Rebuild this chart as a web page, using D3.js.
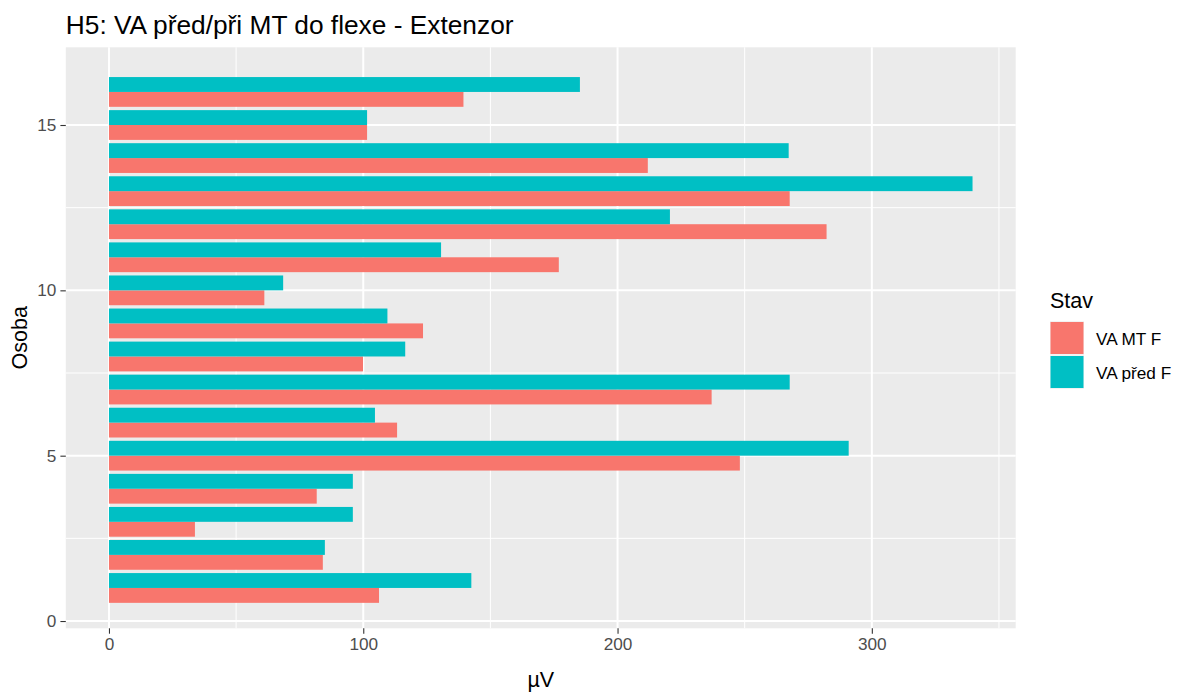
<!DOCTYPE html>
<html>
<head>
<meta charset="utf-8">
<script src="https://cdn.jsdelivr.net/npm/d3@7"></script>
<style>
  body { margin: 0; background: #fff; }
  text { font-family: "Liberation Sans", Arial, sans-serif; }
</style>
</head>
<body>
<script>
// data
var persons = [1, 2, 3, 4, 5, 6, 7, 8, 9, 10, 11, 12, 13, 14, 15, 16];
var vaMT   = [106.2, 84.1, 33.8, 81.7, 248.1, 113.3, 237.0, 99.9, 123.5, 61.1, 176.9, 282.2, 267.7, 211.9, 101.5, 139.4];
var vaPred = [142.5, 84.9, 95.9, 95.9, 290.9, 104.6, 267.7, 116.5, 109.5, 68.5, 130.6, 220.6, 339.6, 267.3, 101.5, 185.2];
var seriesNames = ["VA MT F", "VA před F"];
var seriesColors = ["#F8766D", "#00BFC4"];
var xTicks = [0, 100, 200, 300];
var xMinor = [50, 150, 250, 350];
var yTicks = [0, 5, 10, 15];
var yMinor = [2.5, 7.5, 12.5];

var w = 1191, h = 697;
var panel = {left: 65.8, right: 1015.7, top: 47.3, bottom: 628.3};

var svg = d3.select("body").append("svg")
  .attr("width", w)
  .attr("height", h);

// scales, ggplot style 5% expansion
var xMax = d3.max(vaMT.concat(vaPred));
var xPad = xMax * 0.05;
var x = d3.scaleLinear()
  .domain([-xPad, xMax + xPad])
  .range([panel.left, panel.right]);

var yLo = d3.min(persons) - 0.45, yHi = d3.max(persons) + 0.45;
var yPad = (yHi - yLo) * 0.05;
var y = d3.scaleLinear()
  .domain([yLo - yPad + 0.025, yHi + yPad + 0.105])
  .range([panel.bottom, panel.top]);

//Panel background
svg.append("rect")
  .attr("x", panel.left).attr("y", panel.top)
  .attr("width", panel.right - panel.left)
  .attr("height", panel.bottom - panel.top)
  .attr("fill", "#EBEBEB");

var grid = svg.append("g");
// minor grid
grid.selectAll(".xminor").data(xMinor).enter().append("line")
  .attr("x1", d => x(d)).attr("x2", d => x(d))
  .attr("y1", panel.top).attr("y2", panel.bottom)
  .attr("stroke", "#fff").attr("stroke-width", 1);
grid.selectAll(".yminor").data(yMinor).enter().append("line")
  .attr("y1", d => y(d)).attr("y2", d => y(d))
  .attr("x1", panel.left).attr("x2", panel.right)
  .attr("stroke", "#fff").attr("stroke-width", 1);
// major grid
grid.selectAll(".xmajor").data(xTicks).enter().append("line")
  .attr("x1", d => x(d)).attr("x2", d => x(d))
  .attr("y1", panel.top).attr("y2", panel.bottom)
  .attr("stroke", "#fff").attr("stroke-width", 2);
grid.selectAll(".ymajor").data(yTicks).enter().append("line")
  .attr("y1", d => y(d)).attr("y2", d => y(d))
  .attr("x1", panel.left).attr("x2", panel.right)
  .attr("stroke", "#fff").attr("stroke-width", 2);

// bars, dodged: first series below, second above
var rows = persons.map((p, i) => ({person: p, values: [vaMT[i], vaPred[i]]}));
var bars = svg.append("g");
rows.forEach(r => {
  r.values.forEach((v, s) => {
    var y0 = s == 0 ? r.person - 0.45 : r.person;
    var y1 = s == 0 ? r.person : r.person + 0.45;
    bars.append("rect")
      .attr("x", x(0))
      .attr("y", y(y1))
      .attr("width", x(v) - x(0))
      .attr("height", y(y0) - y(y1))
      .attr("fill", seriesColors[s]);
  });
});

//Axes
var xAxis = svg.append("g")
  .attr("transform", "translate(0," + panel.bottom + ")")
  .call(d3.axisBottom(x).tickValues(xTicks).tickSize(5.4).tickPadding(4));
var yAxis = svg.append("g")
  .attr("transform", "translate(" + panel.left + ",0)")
  .call(d3.axisLeft(y).tickValues(yTicks).tickSize(5.4).tickPadding(4));
[xAxis, yAxis].forEach(a => {
  a.select(".domain").remove();
  a.selectAll(".tick line").attr("stroke", "#333").attr("stroke-width", 1.1);
  a.selectAll(".tick text")
    .attr("fill", "#4D4D4D")
    .style("font-size", "17.2px")
    .style("font-family", "'Liberation Sans', Arial, sans-serif");
});

// titles
svg.append("text")
  .attr("x", panel.left).attr("y", 34)
  .style("font-size", "26.3px")
  .attr("fill", "#000")
  .text("H5: VA před/při MT do flexe - Extenzor");

svg.append("text")
  .attr("x", (panel.left + panel.right) / 2).attr("y", 687)
  .attr("text-anchor", "middle")
  .style("font-size", "21.5px")
  .text("µV");

svg.append("text")
  .attr("transform", "translate(27," + ((panel.top + panel.bottom) / 2) + ") rotate(-90)")
  .attr("text-anchor", "middle")
  .style("font-size", "21.5px")
  .text("Osoba");

// legend
var lg = svg.append("g").attr("transform", "translate(1050,0)");
lg.append("text").attr("x", 0).attr("y", 308)
  .style("font-size", "21.5px").text("Stav");
var keySize = 34;
seriesNames.forEach((name, i) => {
  var ky = 321 + i * keySize;
  lg.append("rect")
    .attr("x", 0).attr("y", ky).attr("width", keySize).attr("height", keySize)
    .attr("fill", "#F2F2F2");
  lg.append("rect")
    .attr("x", 0.5).attr("y", ky + 1).attr("width", keySize - 1).attr("height", keySize - 2)
    .attr("fill", seriesColors[i]);
  lg.append("text")
    .attr("x", keySize + 12).attr("y", ky + keySize / 2 + 6.5)
    .style("font-size", "17.2px")
    .text(name);
});
</script>
</body>
</html>
